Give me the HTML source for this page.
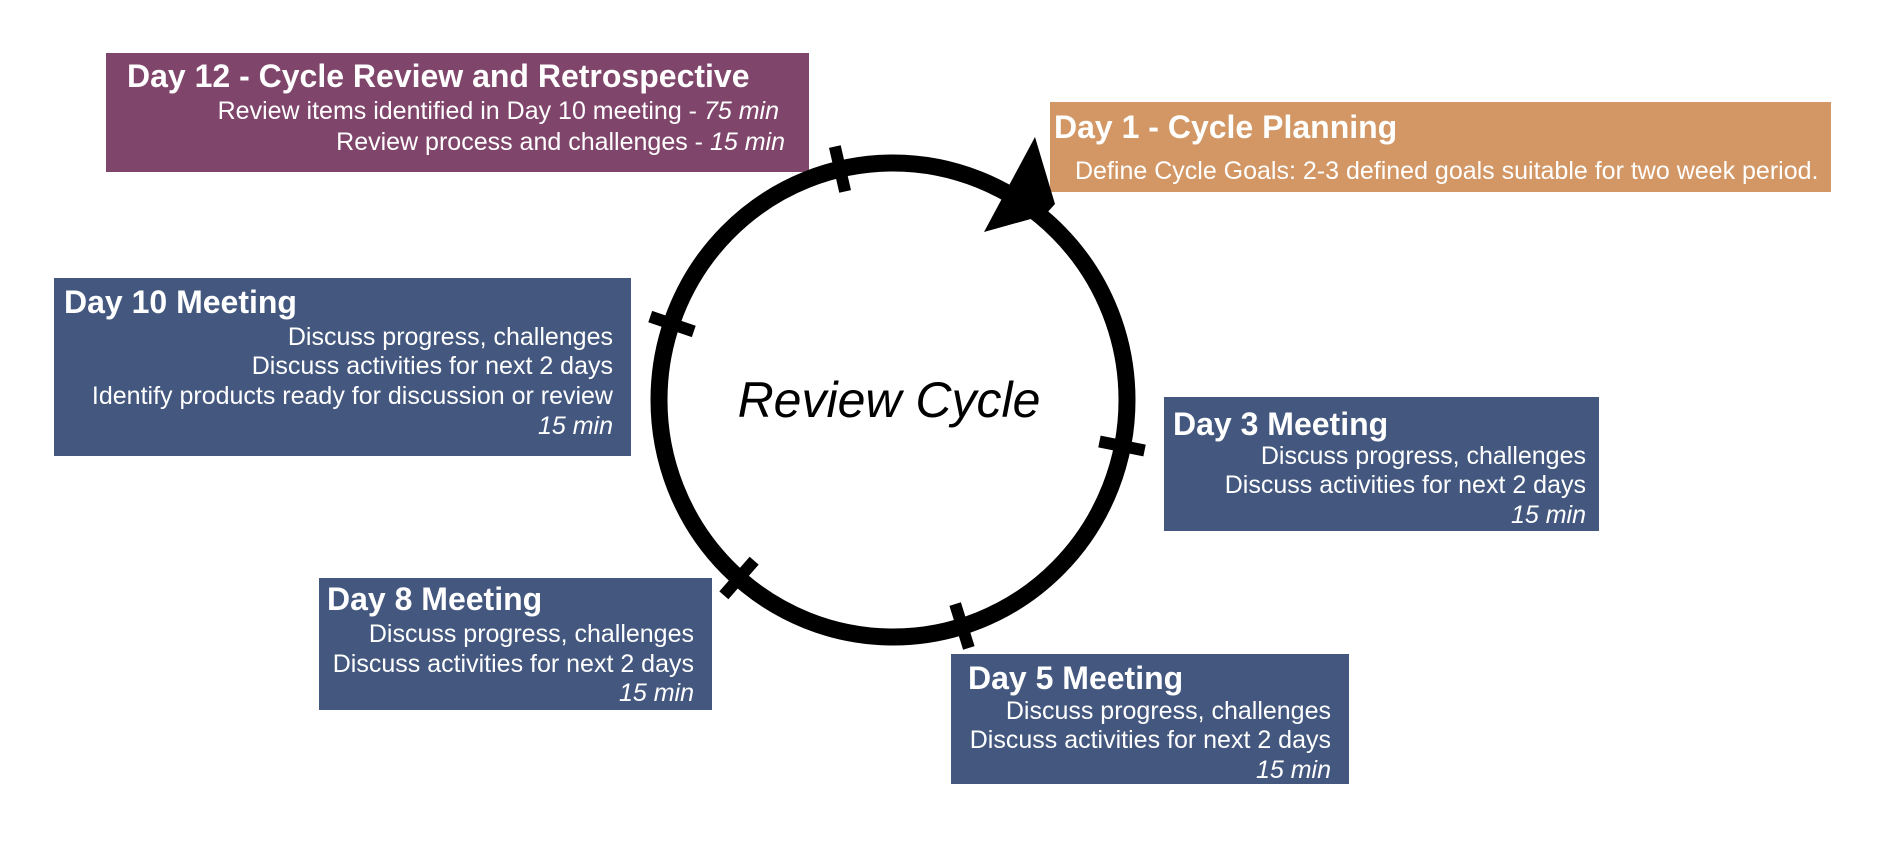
<!DOCTYPE html>
<html><head><meta charset="utf-8"><style>
html,body{margin:0;padding:0;background:#fff;width:1885px;height:843px;overflow:hidden;position:relative;font-family:"Liberation Sans",sans-serif;}
.b{position:absolute;}
.t{position:absolute;color:#fff;white-space:nowrap;line-height:1;}
.h{font-size:32px;font-weight:bold;}
.s{font-size:25px;}
.r{text-align:right;}
</style></head><body>
<div class="b" style="left:106px;top:53px;width:703px;height:119px;background:#80456b"></div>
<div class="b" style="left:1050px;top:102px;width:781px;height:90px;background:#d29765"></div>
<div class="b" style="left:54px;top:278px;width:577px;height:178px;background:#44587f"></div>
<div class="b" style="left:1164px;top:397px;width:435px;height:134px;background:#44587f"></div>
<div class="b" style="left:319px;top:578px;width:393px;height:132px;background:#44587f"></div>
<div class="b" style="left:951px;top:654px;width:398px;height:130px;background:#44587f"></div>

<svg class="b" style="left:0;top:0" width="1885" height="843">
<ellipse cx="893" cy="400" rx="234" ry="237" fill="none" stroke="#000" stroke-width="17"/>
<polygon points="1035,137 1055,204 1045,215 984,232" fill="#000"/>
<g fill="#000">
<rect x="-23" y="-6" width="46" height="12" transform="translate(840,169) rotate(-102.9)"/>
<rect x="-23" y="-6" width="46" height="12" transform="translate(672,324) rotate(198.8)"/>
<rect x="-23" y="-6" width="46" height="12" transform="translate(1122,446) rotate(11.3)"/>
<rect x="-23" y="-6" width="46" height="12" transform="translate(739,578) rotate(131.2)"/>
<rect x="-23" y="-6" width="46" height="12" transform="translate(962,626) rotate(72.7)"/>
</g>
<text x="889" y="417" font-family="Liberation Sans, sans-serif" font-size="50" font-style="italic" text-anchor="middle" fill="#000">Review Cycle</text>
</svg>

<div class="t h" style="left:127px;top:60px">Day 12 - Cycle Review and Retrospective</div>
<div class="t s r" style="right:1106px;top:99px">Review items identified in Day 10 meeting - <i>75 min</i></div>
<div class="t s r" style="right:1100px;top:130px">Review process and challenges - <i>15 min</i></div>

<div class="t h" style="left:1054px;top:111px">Day 1 - Cycle Planning</div>
<div class="t s" style="left:1075px;top:159px">Define Cycle Goals: 2-3 defined goals suitable for two week period.</div>

<div class="t h" style="left:64px;top:286px">Day 10 Meeting</div>
<div class="t s r" style="right:1272px;top:325px">Discuss progress, challenges</div>
<div class="t s r" style="right:1272px;top:354px">Discuss activities for next 2 days</div>
<div class="t s r" style="right:1272px;top:384px">Identify products ready for discussion or review</div>
<div class="t s r" style="right:1272px;top:414px"><i>15 min</i></div>

<div class="t h" style="left:1173px;top:408px">Day 3 Meeting</div>
<div class="t s r" style="right:299px;top:444px">Discuss progress, challenges</div>
<div class="t s r" style="right:299px;top:473px">Discuss activities for next 2 days</div>
<div class="t s r" style="right:299px;top:503px"><i>15 min</i></div>

<div class="t h" style="left:327px;top:583px">Day 8 Meeting</div>
<div class="t s r" style="right:1191px;top:622px">Discuss progress, challenges</div>
<div class="t s r" style="right:1191px;top:652px">Discuss activities for next 2 days</div>
<div class="t s r" style="right:1191px;top:681px"><i>15 min</i></div>

<div class="t h" style="left:968px;top:662px">Day 5 Meeting</div>
<div class="t s r" style="right:554px;top:699px">Discuss progress, challenges</div>
<div class="t s r" style="right:554px;top:728px">Discuss activities for next 2 days</div>
<div class="t s r" style="right:554px;top:758px"><i>15 min</i></div>
</body></html>
